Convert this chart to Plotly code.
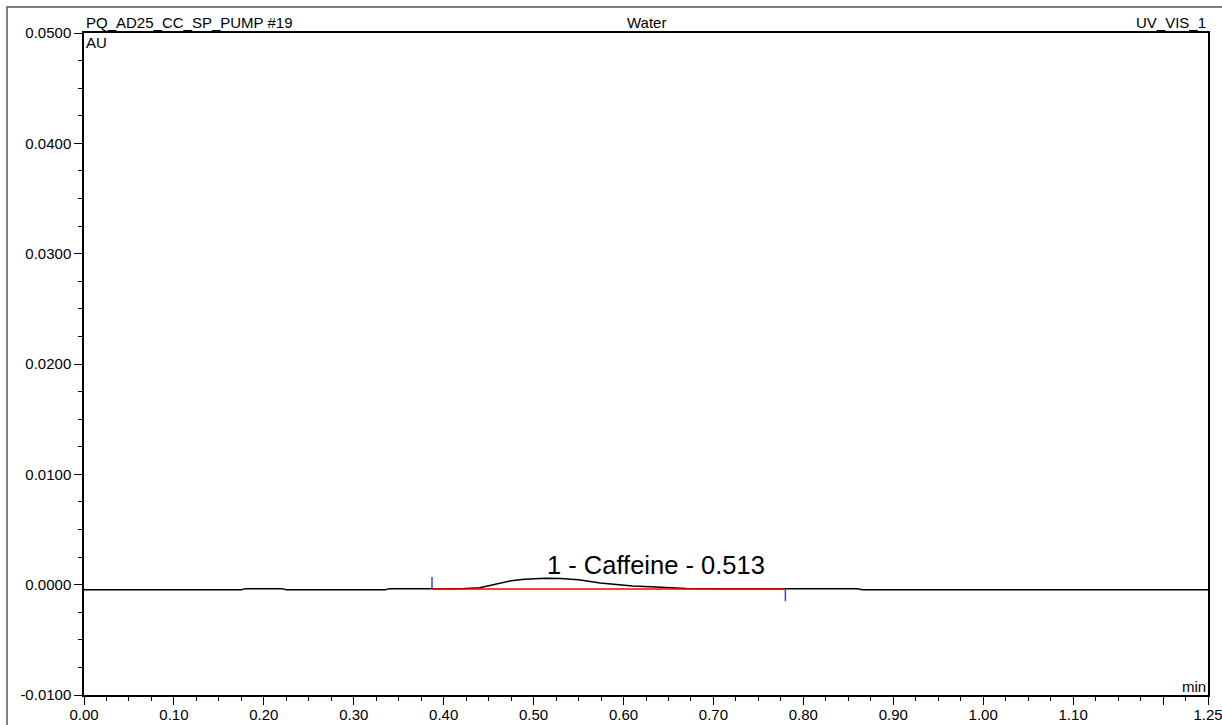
import plotly.graph_objects as go

# ---- data ----
time_min = [0.000, 0.175, 0.180, 0.220, 0.225, 0.335, 0.340, 0.380, 0.387,
            0.400, 0.420, 0.440, 0.460, 0.475, 0.490, 0.500, 0.513, 0.530,
            0.550, 0.574, 0.590, 0.610, 0.630, 0.650, 0.670, 0.700, 0.780,
            0.800, 0.860, 0.866, 1.250]
absorbance = [-0.00045, -0.00045, -0.00036, -0.00036, -0.00045, -0.00045,
              -0.00036, -0.00036, -0.00042, -0.00040, -0.00036, -0.00028,
              0.00010, 0.00036, 0.00050, 0.00055, 0.00058, 0.00055,
              0.00045, 0.00015, 0.00000, -0.00012, -0.00020, -0.00028,
              -0.00034, -0.00038, -0.00040, -0.00036, -0.00036, -0.00045,
              -0.00045]

peak_label = "1 - Caffeine - 0.513"
peak_rt = 0.513
peak_height = 0.00058
peak_start = 0.387
peak_end = 0.780
baseline_start = -0.00040
baseline_end = -0.00040

x_tickvals = [0.00, 0.10, 0.20, 0.30, 0.40, 0.50, 0.60, 0.70, 0.80, 0.90,
              1.00, 1.10, 1.20, 1.25]
x_ticktext = ["0.00", "0.10", "0.20", "0.30", "0.40", "0.50", "0.60", "0.70",
              "0.80", "0.90", "1.00", "1.10", "", "1.25"]
y_tickvals = [-0.01, 0.00, 0.01, 0.02, 0.03, 0.04, 0.05]
y_ticktext = ["-0.0100", "0.0000", "0.0100", "0.0200", "0.0300", "0.0400",
              "0.0500"]

header_left = "PQ_AD25_CC_SP_PUMP #19"
header_center = "Water"
header_right = "UV_VIS_1"
y_unit = "AU"
x_unit = "min"

# ---- layout constants ----
W, H = 1222, 725
L, R, T, B = 84, 14, 33, 30
FONT = "Liberation Sans, Arial, sans-serif"
FS = 15
marker_len = 0.0011  # length of peak delimiter ticks in data units

fig = go.Figure()

fig.add_trace(go.Scatter(x=time_min, y=absorbance, mode="lines",
                         line=dict(color="black", width=1.5),
                         hoverinfo="skip", showlegend=False))

# integration baseline
fig.add_trace(go.Scatter(x=[peak_start, peak_end],
                         y=[baseline_start, baseline_end], mode="lines",
                         line=dict(color="#ff0000", width=1.5),
                         hoverinfo="skip", showlegend=False))

# peak delimiters
fig.add_trace(go.Scatter(x=[peak_start, peak_start, None, peak_end, peak_end],
                         y=[baseline_start, baseline_start + marker_len, None,
                            baseline_end, baseline_end - marker_len],
                         mode="lines", line=dict(color="#3c3cff", width=1.5),
                         hoverinfo="skip", showlegend=False))

annotations = [
    dict(x=peak_rt, y=peak_height, xref="x", yref="y", text=peak_label,
         showarrow=False, xanchor="left", yanchor="middle", yshift=13,
         xshift=0, font=dict(family=FONT, size=25.5, color="black")),
    dict(x=0, y=1, xref="paper", yref="paper", text=header_left,
         showarrow=False, xanchor="left", yanchor="bottom", yshift=0,
         font=dict(family=FONT, size=FS, color="black")),
    dict(x=0.5, y=1, xref="paper", yref="paper", text=header_center,
         showarrow=False, xanchor="center", yanchor="bottom", yshift=0,
         font=dict(family=FONT, size=FS, color="black")),
    dict(x=1, y=1, xref="paper", yref="paper", text=header_right,
         showarrow=False, xanchor="right", yanchor="bottom", yshift=0,
         font=dict(family=FONT, size=FS, color="black")),
    dict(x=0, y=1, xref="paper", yref="paper", text=y_unit,
         showarrow=False, xanchor="left", yanchor="top", yshift=1,
         font=dict(family=FONT, size=FS, color="black")),
    dict(x=1, y=0, xref="paper", yref="paper", text=x_unit,
         showarrow=False, xanchor="right", yanchor="bottom", yshift=-2,
         font=dict(family=FONT, size=FS, color="black")),
]

pw = W - L - R
ph = H - T - B
shapes = [
    dict(type="rect", xref="paper", yref="paper",
         x0=(7 - L) / pw, x1=(W + 20 - L) / pw,
         y0=-(H + 20 - (T + ph)) / ph, y1=1 + (T - 7) / ph,
         line=dict(color="#555555", width=1.5), fillcolor="rgba(0,0,0,0)"),
]

axis_common = dict(
    ticks="outside", ticklen=8, tickwidth=1.2, tickcolor="black",
    showline=True, linecolor="black", linewidth=1.5, mirror=True,
    showgrid=False, zeroline=False, automargin=False,
    ticklabeloverflow="allow",
    tickfont=dict(family=FONT, size=FS, color="black"),
)

fig.update_layout(
    width=W, height=H,
    margin=dict(l=L, r=R, t=T, b=B, pad=0),
    paper_bgcolor="white", plot_bgcolor="white",
    font=dict(family=FONT, size=FS, color="black"),
    annotations=annotations, shapes=shapes, showlegend=False,
    xaxis=dict(range=[0, 1.25], tickvals=x_tickvals, ticktext=x_ticktext,
               ticklabelstandoff=-3,
               minor=dict(dtick=0.025, tick0=0, ticks="outside", ticklen=4,
                          tickwidth=1.2, tickcolor="black", showgrid=False),
               **axis_common),
    yaxis=dict(range=[-0.01, 0.05], tickvals=y_tickvals, ticktext=y_ticktext,
               minor=dict(dtick=0.0025, tick0=0, ticks="outside", ticklen=4,
                          tickwidth=1.2, tickcolor="black", showgrid=False),
               **axis_common),
)

fig.write_html("out.html")
